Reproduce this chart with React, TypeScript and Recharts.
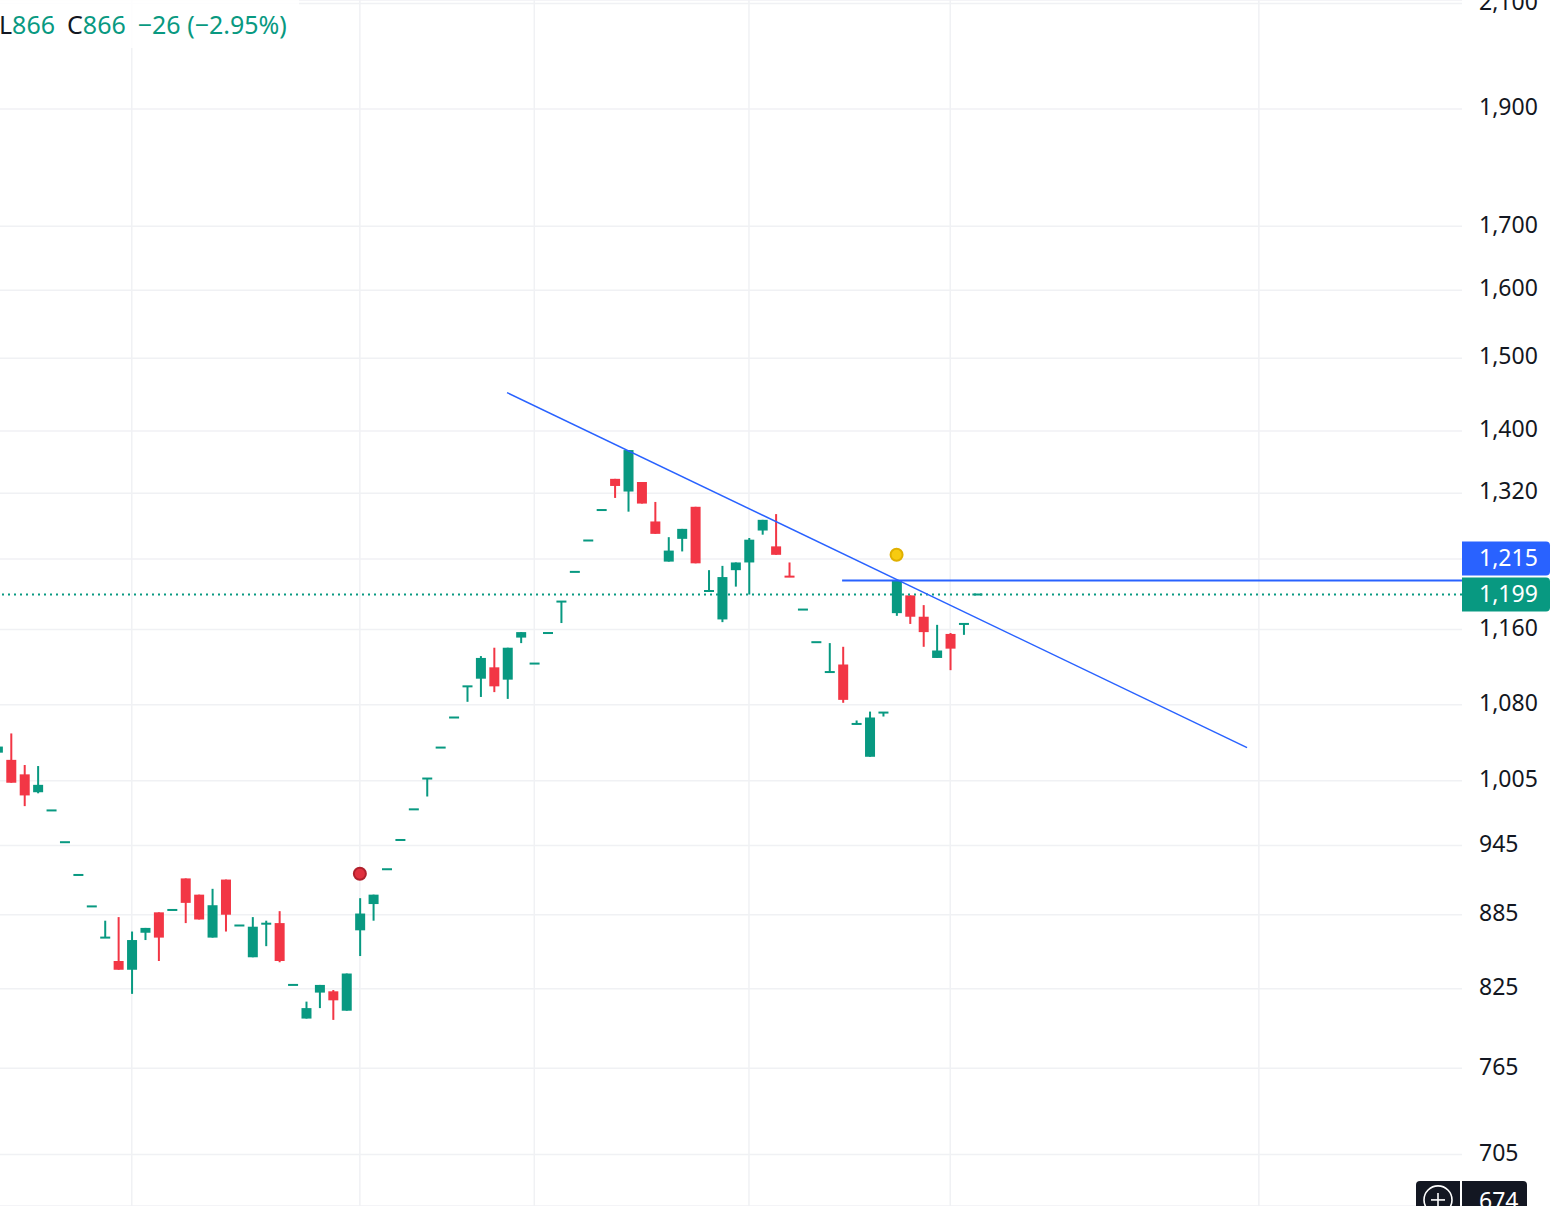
import React from "react";
import { Bar, CartesianGrid, ComposedChart, ReferenceDot, ReferenceLine, XAxis, YAxis } from "recharts";

const GREEN = "#089981";
const RED = "#f23645";
const BLUE = "#2962ff";
const INK = "#131722";
const GRID = "#f0f1f4";

// daily candles (oldest first)
const OPEN = [
  1032, 1025, 1011, 994, 977, 948, 919, 892, 866, 847, 840, 870, 887, 889, 916, 902, 866, 915, 876, 850,
  877, 878, 828, 802, 822, 823, 808, 872, 894, 924, 950, 978, 1007, 1037, 1067, 1099, 1107, 1119, 1106, 1151,
  1123, 1156, 1191, 1225, 1262, 1299, 1338, 1322, 1334, 1285, 1237, 1264, 1303, 1203, 1171, 1227, 1236, 1274, 1255, 1220,
  1182, 1146, 1114, 1122, 1060, 1028, 1072, 1178, 1198, 1174, 1129, 1155, 1166, 1199,
];
const HIGH = [
  1040, 1051, 1020, 1019, 977, 948, 919, 892, 880, 883, 871, 874, 887, 889, 916, 902, 907, 915, 876, 883,
  880, 888, 828, 815, 828, 824, 837, 899, 902, 924, 950, 978, 1007, 1037, 1067, 1099, 1131, 1140, 1140, 1157,
  1123, 1156, 1191, 1225, 1262, 1299, 1338, 1375, 1334, 1309, 1266, 1276, 1303, 1227, 1232, 1236, 1265, 1287, 1294, 1236,
  1182, 1146, 1145, 1141, 1064, 1073, 1072, 1215, 1198, 1187, 1165, 1156, 1166, 1199,
];
const LOW = [
  1030, 1003, 981, 993, 977, 948, 919, 892, 866, 840, 821, 864, 847, 889, 878, 881, 866, 871, 876, 850,
  859, 846, 828, 802, 810, 801, 808, 851, 880, 924, 950, 978, 990, 1037, 1067, 1083, 1088, 1093, 1086, 1145,
  1123, 1156, 1167, 1225, 1262, 1299, 1314, 1297, 1307, 1270, 1237, 1249, 1235, 1203, 1168, 1208, 1199, 1269, 1245, 1219,
  1182, 1146, 1114, 1082, 1060, 1028, 1068, 1175, 1166, 1141, 1129, 1116, 1154, 1199,
];
const CLOSE = [
  1038, 1003, 991, 1001, 977, 948, 919, 892, 866, 840, 864, 874, 866, 889, 895, 881, 893, 885, 876, 875,
  878, 847, 828, 810, 828, 816, 837, 886, 902, 924, 950, 978, 1007, 1037, 1067, 1099, 1129, 1099, 1140, 1157,
  1123, 1156, 1191, 1225, 1262, 1299, 1329, 1375, 1307, 1270, 1250, 1276, 1235, 1203, 1219, 1236, 1263, 1287, 1245, 1219,
  1182, 1146, 1114, 1085, 1061, 1067, 1072, 1215, 1174, 1157, 1137, 1139, 1166, 1199,
];

const PRICE_TICKS = [2100, 1900, 1700, 1600, 1500, 1400, 1320, 1240, 1160, 1080, 1005, 945, 885, 825, 765, 705];
// tick whose label sits under the blue level tag
const HIDDEN_TICKS = [1240];
const TIME_GRID = [10, 27, 40, 56, 71, 94];
const X_DOMAIN = [0.18, 109.14];
const Y_DOMAIN = [671.4, 2107];

const LAST_PRICE = 1199;
const LEVEL_PRICE = 1215;
const LEVEL_START = 62.94;
const CROSS_PRICE = 674;
const TREND = [
  { x: 37.97, y: 1452 },
  { x: 93.12, y: 1037 },
];
const SIGNALS = [
  { x: 27, y: 920, fill: "#e0303e", stroke: "#b0202c" },
  { x: 67, y: 1245, fill: "#f7cb10", stroke: "#e0b000" },
];

const rows = OPEN.map((o, i) => ({
  i,
  body: [Math.min(o, CLOSE[i]), Math.max(o, CLOSE[i])],
  wick: [LOW[i], HIGH[i]],
  up: CLOSE[i] >= o,
}));

const W = 1563;
const H = 1206;
const MARGIN = { top: 0, right: 0, bottom: 0, left: 0 };
const layer: React.CSSProperties = { position: "absolute", left: 0, top: 0 };

function Body(props: any) {
  const { x, y, width, height, payload } = props;
  const h = Math.abs(height || 0);
  const top = Math.min(y, y + (height || 0));
  const drawn = Math.max(h, 2);
  return <rect x={x} y={top - (drawn - h) / 2} width={width} height={drawn} fill={payload.up ? GREEN : RED} />;
}

function Wick(props: any) {
  const { x, y, width, height, payload } = props;
  const h = Math.abs(height || 0);
  if (h < 0.5) return null;
  const top = Math.min(y, y + height);
  return <rect x={x} y={top} width={width} height={h} fill={payload.up ? GREEN : RED} />;
}

function tagPath(x: number, top: number, w: number, h: number, r: number) {
  return `M${x},${top} H${x + w - r} Q${x + w},${top} ${x + w},${top + r} V${top + h - r} Q${x + w},${top + h} ${x + w - r},${top + h} H${x} Z`;
}

function PriceTag({ viewBox, text, bg, dy = 0 }: any) {
  const right = viewBox.x + viewBox.width;
  const cy = viewBox.y + dy;
  return (
    <g>
      <path d={tagPath(right, cy - 17, 88, 34, 4)} fill={bg} />
      <text x={right + 17} y={cy - 2} dominantBaseline="central" fill="#fff" fontSize={23} fontFamily="Noto Sans">
        {text}
      </text>
    </g>
  );
}

function CrossTag({ viewBox, text }: any) {
  const right = viewBox.x + viewBox.width;
  const cy = viewBox.y - 2;
  const bx = right - 46;
  return (
    <g>
      <path d={`M${bx},${cy + 19} V${cy - 15} Q${bx},${cy - 19} ${bx + 4},${cy - 19} H${right - 2} V${cy + 19} Z`} fill={INK} />
      <circle cx={bx + 22} cy={cy} r={14} fill="none" stroke="#fff" strokeWidth={1.6} />
      <line x1={bx + 15} x2={bx + 29} y1={cy} y2={cy} stroke="#fff" strokeWidth={1.6} />
      <line x1={bx + 22} x2={bx + 22} y1={cy - 7} y2={cy + 7} stroke="#fff" strokeWidth={1.6} />
      <path d={tagPath(right, cy - 19, 65, 38, 4)} fill={INK} />
      <text x={right + 17} y={cy} dominantBaseline="central" fill="#fff" fontSize={23} fontFamily="Noto Sans">
        {text}
      </text>
    </g>
  );
}

function axes(withLabels: boolean) {
  return [
    <XAxis key="x0" xAxisId={0} dataKey="i" type="number" domain={X_DOMAIN} allowDataOverflow ticks={TIME_GRID} hide />,
    <XAxis key="xw" xAxisId="w" dataKey="i" type="number" domain={X_DOMAIN} allowDataOverflow hide />,
    <YAxis
      key="y"
      orientation="right"
      scale="log"
      domain={Y_DOMAIN}
      allowDataOverflow
      ticks={PRICE_TICKS}
      interval={0}
      width={101}
      axisLine={false}
      tickLine={false}
      tickSize={0}
      tickMargin={17}
      tick={withLabels ? { fill: INK, fontSize: 23, fontFamily: "Noto Sans", dy: -2 } : false}
      tickFormatter={(v: number) => (HIDDEN_TICKS.includes(v) ? "" : v.toLocaleString("en-US"))}
    />,
  ];
}

export default function App() {
  return (
    <div style={{ position: "absolute", left: 0, top: 0, width: W, height: H, background: "#fff", fontFamily: "Noto Sans", overflow: "hidden" }}>
      {/* vertical time grid, kept under the candles */}
      <div style={layer}>
        <ComposedChart width={W} height={H} data={rows} margin={MARGIN}>
          {axes(false)}
          {TIME_GRID.map((t) => (
            <ReferenceLine key={t} x={t} stroke={GRID} strokeWidth={1.5} />
          ))}
        </ComposedChart>
      </div>
      <div style={layer}>
        <ComposedChart width={W} height={H} data={rows} margin={MARGIN}>
          <CartesianGrid stroke={GRID} strokeWidth={1.5} vertical={false} />
          {axes(true)}
          <ReferenceLine
            y={LAST_PRICE}
            stroke={GREEN}
            strokeWidth={2}
            strokeDasharray="2 4"
            label={(p: any) => <PriceTag {...p} text={LAST_PRICE.toLocaleString("en-US")} bg={GREEN} />}
          />
          <Bar xAxisId="w" dataKey="wick" barSize={2} shape={<Wick />} isAnimationActive={false} />
          <Bar xAxisId={0} dataKey="body" barSize={10} shape={<Body />} isAnimationActive={false} />
          <ReferenceLine
            segment={[
              { x: LEVEL_START, y: LEVEL_PRICE },
              { x: X_DOMAIN[1], y: LEVEL_PRICE },
            ]}
            stroke={BLUE}
            strokeWidth={2}
            ifOverflow="visible"
          />
          <ReferenceLine segment={TREND} stroke={BLUE} strokeWidth={1.5} ifOverflow="visible" />
          <ReferenceLine
            y={LEVEL_PRICE}
            stroke="none"
            label={(p: any) => <PriceTag {...p} text={LEVEL_PRICE.toLocaleString("en-US")} bg={BLUE} dy={-22} />}
          />
          <ReferenceLine y={CROSS_PRICE} stroke="none" label={(p: any) => <CrossTag {...p} text={String(CROSS_PRICE)} />} />
          {SIGNALS.map((s) => (
            <ReferenceDot key={s.x} x={s.x} y={s.y} r={6} fill={s.fill} stroke={s.stroke} strokeWidth={2} />
          ))}
        </ComposedChart>
      </div>
      <div
        style={{
          position: "absolute",
          left: -1,
          top: 0,
          height: 48,
          paddingRight: 12,
          background: "rgba(255,255,255,0.85)",
          fontSize: 25,
          lineHeight: "48px",
          whiteSpace: "nowrap",
          color: GREEN,
        }}
      >
        <span style={{ color: INK }}>L</span>
        <span style={{ marginRight: 12 }}>866</span>
        <span style={{ color: INK }}>C</span>
        <span style={{ marginRight: 12 }}>866</span>
        <span>−26 (−2.95%)</span>
      </div>
    </div>
  );
}
